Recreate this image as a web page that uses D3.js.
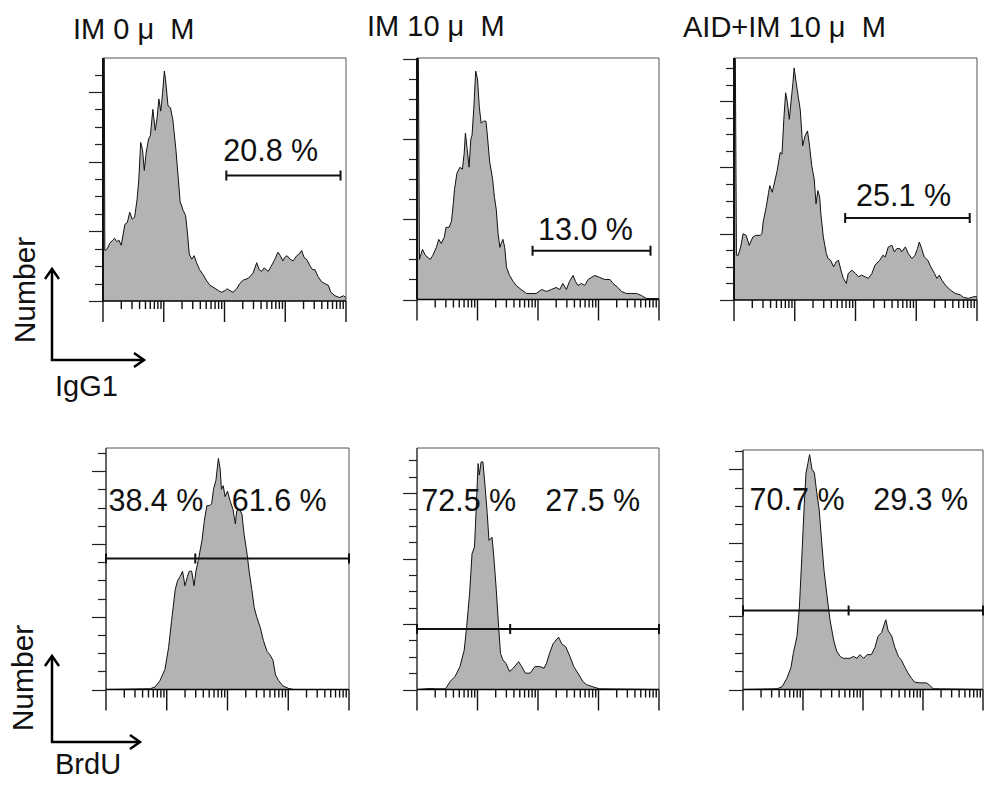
<!DOCTYPE html>
<html><head><meta charset="utf-8">
<script src="https://cdn.jsdelivr.net/npm/d3@7"></script>
<style>
body{margin:0;background:#fff}
svg{display:block}
text{font-family:"Liberation Sans",Arial,Helvetica,sans-serif;white-space:pre}
</style>
</head><body>
<svg id="c" width="985" height="787"></svg>
<script>
// ---------- DATA ----------
const titles = ["IM 0 μ  M", "IM 10 μ  M", "AID+IM 10 μ  M"];
const topAxisName = "IgG1";
const bottomAxisName = "BrdU";
const yAxisName = "Number";

// histograms: [log10 decade position (0-4), relative count]
const igg1_IM0 = [[0,0],[0,160],[0.02,160],[0.03,29],[0.07,30],[0.11,33],[0.16,35],[0.19,36],[0.23,34],[0.26,35],[0.30,32],[0.36,44],[0.40,45],[0.44,51],[0.48,47],[0.52,48],[0.56,58],[0.59,70],[0.62,91],[0.65,87],[0.68,75],[0.71,85],[0.75,93],[0.78,95],[0.82,110],[0.86,98],[0.89,105],[0.92,116],[0.95,109],[0.98,119],[1.01,132],[1.03,127],[1.07,112],[1.11,111],[1.15,104],[1.20,87],[1.24,70],[1.27,57],[1.32,52],[1.36,49],[1.39,39],[1.42,27],[1.46,24],[1.50,26],[1.54,22],[1.59,18],[1.65,15],[1.70,12],[1.76,9],[1.81,8],[1.90,6],[1.95,5],[2.01,6],[2.04,7],[2.09,6],[2.14,5],[2.20,7],[2.25,10],[2.31,12],[2.39,13],[2.47,16],[2.53,22],[2.57,18],[2.61,17],[2.65,19],[2.72,17],[2.77,20],[2.83,24],[2.88,28],[2.92,26],[2.96,23],[2.99,25],[3.03,26],[3.08,24],[3.13,23],[3.19,26],[3.23,27],[3.27,29],[3.31,25],[3.35,24],[3.41,20],[3.45,18],[3.49,18],[3.54,14],[3.60,11],[3.65,10],[3.71,9],[3.75,5],[3.82,3],[3.89,2],[3.96,3],[4.00,2],[4.00,0]];

const igg1_IM10 = [[0,0],[0,140],[0.02,140],[0.04,20],[0.09,25],[0.14,22],[0.22,20],[0.26,22],[0.32,26],[0.36,30],[0.40,28],[0.45,31],[0.48,36],[0.53,36],[0.57,39],[0.60,48],[0.62,55],[0.66,63],[0.71,66],[0.75,65],[0.78,73],[0.80,83],[0.83,75],[0.86,66],[0.89,80],[0.91,82],[0.94,96],[0.97,114],[1.00,110],[1.03,96],[1.06,88],[1.10,89],[1.14,89],[1.16,83],[1.20,69],[1.25,60],[1.28,51],[1.31,45],[1.34,33],[1.37,26],[1.39,28],[1.42,30],[1.45,26],[1.48,16],[1.53,12],[1.59,9],[1.64,7],[1.72,5],[1.81,3],[1.92,3],[1.97,3],[2.06,5],[2.14,4],[2.22,5],[2.30,6],[2.36,5],[2.41,8],[2.47,5],[2.52,9],[2.58,12],[2.62,9],[2.66,7],[2.72,8],[2.77,7],[2.83,10],[2.88,11],[2.94,12],[3.02,11],[3.10,10],[3.19,10],[3.24,8],[3.32,6],[3.38,4],[3.46,3],[3.54,3],[3.63,3],[3.71,2],[3.79,0.5],[3.90,0.5],[4.00,0.5],[4.00,0]];

const igg1_AID = [[0,0],[0,160],[0.02,160],[0.04,27],[0.07,27],[0.11,32],[0.15,40],[0.20,39],[0.25,33],[0.31,38],[0.36,39],[0.43,39],[0.46,40],[0.48,47],[0.53,56],[0.57,65],[0.59,69],[0.63,65],[0.68,73],[0.71,78],[0.76,89],[0.79,88],[0.82,109],[0.85,125],[0.88,119],[0.91,109],[0.94,120],[0.97,131],[0.99,140],[1.02,132],[1.06,122],[1.09,115],[1.13,93],[1.17,99],[1.21,102],[1.24,94],[1.28,81],[1.32,73],[1.35,58],[1.38,66],[1.41,62],[1.43,52],[1.47,38],[1.52,28],[1.55,25],[1.59,24],[1.64,20],[1.68,23],[1.72,24],[1.76,18],[1.80,13],[1.85,10],[1.88,16],[1.94,18],[2.00,16],[2.05,14],[2.10,15],[2.16,14],[2.21,13],[2.27,16],[2.32,21],[2.40,24],[2.45,27],[2.49,26],[2.54,32],[2.60,33],[2.64,29],[2.68,31],[2.73,31],[2.76,29],[2.82,32],[2.87,28],[2.93,25],[2.98,27],[3.02,31],[3.05,35],[3.09,31],[3.13,26],[3.19,24],[3.24,20],[3.30,16],[3.34,13],[3.38,15],[3.42,12],[3.48,9],[3.56,6],[3.64,4],[3.73,3],[3.78,1.5],[3.86,1],[3.95,2],[4.00,2],[4.00,0]];

const brdu_IM0 = [[0,0],[0.73,0.4],[0.81,1.5],[0.89,5],[0.97,11],[1.03,23],[1.08,38],[1.14,55],[1.18,60],[1.22,62],[1.26,65],[1.30,57],[1.34,62],[1.37,65],[1.41,65],[1.45,57],[1.48,65],[1.52,71],[1.58,82],[1.62,93],[1.66,101],[1.70,101],[1.74,102],[1.77,110],[1.81,115],[1.85,127],[1.88,121],[1.90,110],[1.93,112],[1.96,106],[2.00,109],[2.04,104],[2.09,99],[2.13,91],[2.15,98],[2.20,99],[2.24,96],[2.27,86],[2.32,75],[2.36,64],[2.40,55],[2.44,45],[2.48,40],[2.54,34],[2.59,27],[2.65,21],[2.70,19],[2.75,16],[2.79,8],[2.84,5],[2.91,2],[3.01,0.5],[3.09,0],[4.00,0]];

const brdu_IM10 = [[0,0],[0.22,0.6],[0.33,0.4],[0.47,0.4],[0.55,5],[0.63,8],[0.71,14],[0.78,24],[0.82,38],[0.87,59],[0.91,83],[0.95,87],[0.98,112],[1.01,138],[1.03,131],[1.06,139],[1.09,139],[1.13,122],[1.16,108],[1.19,91],[1.24,93],[1.27,81],[1.31,61],[1.35,38],[1.38,22],[1.42,18],[1.47,16],[1.53,11],[1.59,13],[1.68,17],[1.73,14],[1.79,10],[1.87,10],[1.95,14],[2.03,14],[2.10,13],[2.14,16],[2.19,22],[2.25,28],[2.34,32],[2.39,28],[2.46,26],[2.53,20],[2.59,14],[2.66,10],[2.74,5],[2.80,3],[2.91,1.6],[3.02,0.4],[4.00,0]];

const brdu_AID = [[0,0],[0.57,0.4],[0.65,1.5],[0.73,6],[0.80,12],[0.84,20],[0.90,29],[0.94,45],[0.98,72],[1.02,100],[1.05,118],[1.08,123],[1.11,128],[1.15,120],[1.19,118],[1.23,107],[1.27,98],[1.31,81],[1.35,65],[1.40,51],[1.45,38],[1.51,27],[1.56,21],[1.62,18],[1.67,17],[1.73,17],[1.78,17],[1.84,18],[1.90,17],[1.95,19],[2.01,17],[2.07,19],[2.14,19],[2.20,23],[2.25,29],[2.31,31],[2.34,34],[2.38,38],[2.42,32],[2.48,29],[2.53,23],[2.59,18],[2.64,16],[2.70,12],[2.75,9],[2.81,6],[2.86,4],[2.95,3.6],[3.06,3.6],[3.11,2.4],[3.17,0.4],[4.00,0]];

// gates: [from decade, to decade, level count]
const topGates = [[2.03, 3.91, 72], [1.91, 3.86, 24.3], [1.83, 3.88, 49.4]];
const topGateLabels = ["20.8 %", "13.0 %", "25.1 %"];
// bottom gates: [from, split, to, level]
const bottomGates = [[0, 1.47, 4, 72], [0, 1.54, 4, 37], [0, 1.76, 4, 43]];
const bottomLeftLabels = ["38.4 %", "72.5 %", "70.7 %"];
const bottomRightLabels = ["61.6 %", "27.5 %", "29.3 %"];
// y-axis maximum (count at top of frame)
const yMax = [139.5, 120.5, 146, 132.7, 147.5, 130.5];

// ---------- LAYOUT ----------
const svg = d3.select("#c");
const boxes = [
  {l:103, r:346, t:58, b:301},
  {l:417, r:659, t:58, b:299.5},
  {l:734, r:977, t:58, b:300},
  {l:106, r:349, t:448, b:689.5},
  {l:417, r:659, t:448, b:689.5},
  {l:743, r:983, t:450, b:689.5}
];
const datasets = [igg1_IM0, igg1_IM10, igg1_AID, brdu_IM0, brdu_IM10, brdu_AID];
const topLabelPos = [[1.98, 80.6], [2.0, 29.7], [2.01, 57]];
const botLabelPos = [[0.04, 2.07, 98], [0.07, 2.12, 109], [0.11, 2.17, 98]];

datasets.forEach((data, i) => {
  const bx = boxes[i];
  const x = d3.scaleLog().domain([1, 1e4]).range([bx.l, bx.r]);
  const y = d3.scaleLinear().domain([0, yMax[i]]).range([bx.b, bx.t]);
  const g = svg.append("g");
  const cid = "clip" + i;
  svg.append("clipPath").attr("id", cid).append("rect")
    .attr("x", bx.l).attr("y", bx.t).attr("width", bx.r - bx.l).attr("height", bx.b - bx.t);

  const area = d3.area().x(d => x(Math.pow(10, d[0]))).y0(y(0)).y1(d => y(d[1]));
  const line = d3.line().x(d => x(Math.pow(10, d[0]))).y(d => y(d[1]));
  g.append("path").datum(data).attr("clip-path", `url(#${cid})`)
    .attr("d", area).attr("fill", "#b3b3b3");
  g.append("path").datum(data).attr("clip-path", `url(#${cid})`)
    .attr("d", line).attr("fill", "none").attr("stroke", "#111").attr("stroke-width", 1);

  // frame top & right
  g.append("path").attr("d", `M${bx.l},${bx.t}H${bx.r}V${bx.b}`)
    .attr("fill", "none").attr("stroke", "#555").attr("stroke-width", 1);
  // left axis
  g.append("line").attr("x1", bx.l).attr("x2", bx.l).attr("y1", bx.t).attr("y2", bx.b)
    .attr("stroke", i < 3 ? "#111" : "#333").attr("stroke-width", i < 3 ? 2 : 1.5);

  // y ticks
  const yt = d3.range(0, yMax[i], 10);
  g.selectAll(".yt").data(yt).join("line")
    .attr("x1", d => bx.l - (d % 40 === 0 ? 14 : 8)).attr("x2", bx.l)
    .attr("y1", d => Math.round(y(d)) + 0.5).attr("y2", d => Math.round(y(d)) + 0.5)
    .attr("stroke", "#222").attr("stroke-width", 1.2);

  // x baseline + log ticks
  g.append("line").attr("x1", bx.l).attr("x2", bx.r).attr("y1", bx.b).attr("y2", bx.b)
    .attr("stroke", "#000").attr("stroke-width", 1.5);
  const xt = x.ticks();
  g.selectAll(".xt").data(xt).join("line")
    .attr("x1", d => x(d)).attr("x2", d => x(d))
    .attr("y1", bx.b)
    .attr("y2", d => bx.b + (Math.abs(Math.log10(d) - Math.round(Math.log10(d))) < 1e-9 ? 21 : 8))
    .attr("stroke", "#111").attr("stroke-width", 1.4);

  if (i < 3) {
    const gt = topGates[i];
    const gy = y(gt[2]);
    const x0 = x(Math.pow(10, gt[0])), x1 = x(Math.pow(10, gt[1]));
    g.append("path").attr("d", `M${x0},${gy}H${x1}M${x0},${gy-5}V${gy+5}M${x1},${gy-5}V${gy+5}`)
      .attr("stroke", "#111").attr("stroke-width", 2).attr("fill", "none");
    const lp = topLabelPos[i];
    g.append("text").attr("x", x(Math.pow(10, lp[0]))).attr("y", y(lp[1]))
      .attr("font-size", 30.5).attr("fill", "#111").text(topGateLabels[i]);
  } else {
    const k = i - 3;
    const gt = bottomGates[k];
    const gy = y(gt[3]);
    const x0 = x(Math.pow(10, gt[0])), xm = x(Math.pow(10, gt[1])), x1 = x(Math.pow(10, gt[2]));
    g.append("path").attr("d", `M${x0},${gy}H${x1}M${x0},${gy-5}V${gy+5}M${x1},${gy-5}V${gy+5}M${xm},${gy-5}V${gy+5}`)
      .attr("stroke", "#111").attr("stroke-width", 2).attr("fill", "none");
    const lp = botLabelPos[k];
    g.append("text").attr("x", x(Math.pow(10, lp[0]))).attr("y", y(lp[2]))
      .attr("font-size", 30.5).attr("fill", "#111").text(bottomLeftLabels[k]);
    g.append("text").attr("x", x(Math.pow(10, lp[1]))).attr("y", y(lp[2]))
      .attr("font-size", 30.5).attr("fill", "#111").text(bottomRightLabels[k]);
  }
});

// titles
const titlePos = [[73, 39], [367, 36], [683, 37]];
titles.forEach((t, i) => {
  svg.append("text").attr("x", titlePos[i][0]).attr("y", titlePos[i][1])
    .attr("font-size", 29).attr("fill", "#111").text(t);
});

// axis arrows and names
function arrows(cx, cy, topY, rightX) {
  svg.append("path").attr("d", `M${cx},${topY}V${cy}H${rightX}`)
    .attr("fill", "none").attr("stroke", "#000").attr("stroke-width", 2.5);
  svg.append("path").attr("d", `M${cx-7},${topY+10}L${cx},${topY}L${cx+7},${topY+10}M${rightX-10},${cy-7}L${rightX},${cy}L${rightX-10},${cy+7}`)
    .attr("fill", "none").attr("stroke", "#000").attr("stroke-width", 2.5);
}
arrows(52, 360, 269, 144);
arrows(52, 742, 656, 140);

svg.append("text").attr("transform", "translate(35,290) rotate(-90)")
  .attr("text-anchor", "middle").attr("font-size", 30).attr("fill", "#111").text(yAxisName);
svg.append("text").attr("transform", "translate(33,678) rotate(-90)")
  .attr("text-anchor", "middle").attr("font-size", 30).attr("fill", "#111").text(yAxisName);
svg.append("text").attr("x", 55).attr("y", 396).attr("font-size", 29).attr("fill", "#111").text(topAxisName);
svg.append("text").attr("x", 55).attr("y", 774).attr("font-size", 29).attr("fill", "#111").text(bottomAxisName);
</script>
</body></html>
